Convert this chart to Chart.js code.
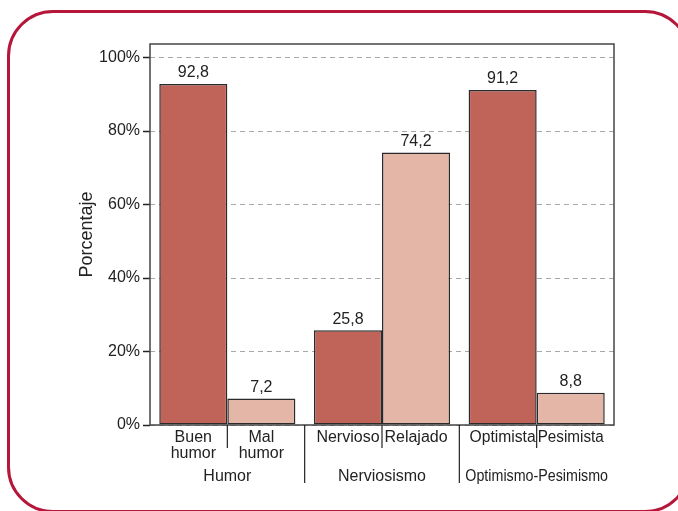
<!DOCTYPE html>
<html>
<head>
<meta charset="utf-8">
<script src="https://cdn.jsdelivr.net/npm/chart.js@4/dist/chart.umd.min.js"></script>
<style>
  html, body { margin: 0; padding: 0; background: #fff; }
  #wrap { position: relative; width: 678px; height: 511px; overflow: hidden; }
  #frame {
    position: absolute; left: 7px; top: 10px; width: 684px; height: 503px;
    box-sizing: border-box; border: 3px solid #b5173a; border-radius: 46px;
  }
  canvas { position: absolute; left: 0; top: 0; }
</style>
</head>
<body>
<div id="wrap">
  <div id="frame"></div>
  <canvas id="myChart" width="678" height="511"></canvas>
</div>
<script>
// groups and bars
var groups = ["Humor", "Nerviosismo", "Optimismo-Pesimismo"];
var leftNames = [["Buen", "humor"], ["Nervioso"], ["Optimista"]];
var rightNames = [["Mal", "humor"], ["Relajado"], ["Pesimista"]];
var leftValues = [92.8, 25.8, 91.2];
var rightValues = [7.2, 74.2, 8.8];
var yTicks = [0, 20, 40, 60, 80, 100];

var textColor = '#222';
var fontStr = "16px 'Liberation Sans', Arial, sans-serif";
Chart.defaults.font.family = "'Liberation Sans', Arial, sans-serif";
Chart.defaults.font.size = 16;
Chart.defaults.color = textColor;

var extras = {
  id: 'extras',
  afterDatasetsDraw: function (chart) {
    var ctx = chart.ctx;
    ctx.save();
    ctx.font = fontStr;
    ctx.fillStyle = textColor;
    ctx.textAlign = 'center';
    ctx.textBaseline = 'bottom';
    chart.data.datasets.forEach(function (ds, d) {
      chart.getDatasetMeta(d).data.forEach(function (bar, i) {
        ctx.fillText(ds.data[i].toFixed(1).replace('.', ','), bar.x, bar.y - 3);
      });
    });
    ctx.restore();
  },
  afterDraw: function (chart) {
    var ctx = chart.ctx, a = chart.chartArea, xs = chart.scales.x;
    ctx.save();
    // plot box
    ctx.strokeStyle = '#444';
    ctx.lineWidth = 1.5;
    ctx.strokeRect(a.left, a.top, a.right - a.left, a.bottom - a.top);

    ctx.strokeStyle = textColor;
    ctx.lineWidth = 1.2;
    ctx.font = fontStr;
    ctx.fillStyle = textColor;
    ctx.textAlign = 'center';
    ctx.textBaseline = 'middle';
    var half = (xs.getPixelForValue(1) - xs.getPixelForValue(0)) / 2;
    var names = [leftNames, rightNames];
    groups.forEach(function (g, i) {
      var cx = xs.getPixelForValue(i);
      // short divider between the two bars
      ctx.beginPath();
      ctx.moveTo(cx, a.bottom);
      ctx.lineTo(cx, a.bottom + 23);
      ctx.stroke();
      // long divider between groups
      if (i > 0) {
        ctx.beginPath();
        ctx.moveTo(cx - half, a.bottom);
        ctx.lineTo(cx - half, a.bottom + 58);
        ctx.stroke();
      }
      ctx.fillText(g, cx, a.bottom + 52, 2 * half - 12);
      names.forEach(function (arr, d) {
        var bar = chart.getDatasetMeta(d).data[i];
        arr[i].forEach(function (t, k) {
          ctx.fillText(t, bar.x, a.bottom + 13 + k * 16, bar.width - 2);
        });
      });
    });
    ctx.restore();
  }
};

var ctx = document.getElementById('myChart');
var myChart = new Chart(ctx, {
  type: 'bar',
  data: {
    labels: groups,
    datasets: [
      {
        data: leftValues,
        backgroundColor: '#c0645a',
        borderColor: '#2a2a2a',
        borderWidth: 1.5,
        borderSkipped: false
      },
      {
        data: rightValues,
        backgroundColor: '#e3b6a7',
        borderColor: '#2a2a2a',
        borderWidth: 1.5,
        borderSkipped: false
      }
    ]
  },
  options: {
    responsive: false,
    animation: false,
    layout: { padding: { left: 76, top: 44, right: 64, bottom: 0 } },
    plugins: { legend: { display: false }, tooltip: { enabled: false } },
    datasets: { bar: { categoryPercentage: 0.88, barPercentage: 1 } },
    scales: {
      x: {
        ticks: { display: false },
        grid: { display: false },
        border: { display: false },
        afterFit: function (s) { s.height = 86; }
      },
      y: {
        min: 0,
        max: 103.7,
        afterFit: function (s) { s.width = 74; },
        afterBuildTicks: function (s) {
          s.ticks = yTicks.map(function (v) { return { value: v }; });
        },
        ticks: {
          padding: 3,
          color: textColor,
          callback: function (v) { return v + '%'; }
        },
        grid: {
          color: '#a8a8a8',
          lineWidth: 1,
          tickLength: 7,
          tickColor: '#222',
          tickWidth: 1.5,
          tickBorderDash: []
        },
        border: { display: false, dash: [5, 4] },
        title: {
          display: true,
          text: 'Porcentaje',
          color: textColor,
          font: { size: 18 },
          padding: { top: 0, bottom: 0 }
        }
      }
    }
  },
  plugins: [extras]
});
</script>
</body>
</html>
